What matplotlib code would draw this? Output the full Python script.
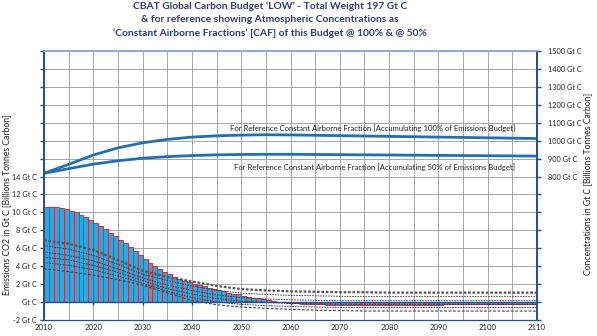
import numpy as np
import matplotlib
matplotlib.use("Agg")
import matplotlib.pyplot as plt

plt.rcParams['font.family'] = ['Lato', 'DejaVu Sans']

# yearly emissions budget, Gt C (bars start at each year)
years = np.arange(2010, 2110)
emissions = [10.6, 10.6, 10.55, 10.5, 10.4, 10.2, 10.0, 9.75, 9.5, 9.15,
             8.8, 8.45, 8.1, 7.7, 7.35, 6.95, 6.55, 6.15, 5.7, 5.25,
             4.8, 4.4, 4.05, 3.7, 3.4, 3.1, 2.85, 2.6, 2.4, 2.2,
             2.05, 1.9, 1.75, 1.6, 1.45, 1.3, 1.2, 1.05, 0.95, 0.85,
             0.7, 0.6, 0.5, 0.4, 0.3, 0.2, 0.1, 0.05, 0.0, -0.05,
             -0.1, -0.15, -0.18, -0.2, -0.22, -0.25, -0.27, -0.3, -0.32, -0.34,
             -0.35, -0.35, -0.36, -0.36, -0.35, -0.35, -0.34, -0.34, -0.33, -0.33,
             -0.32, -0.32, -0.31, -0.31, -0.3, -0.3, -0.3, -0.29, -0.29, -0.28,
             -0.28, -0.27, -0.27, -0.26, -0.26, -0.25, -0.25, -0.25, -0.24, -0.24,
             -0.23, -0.23, -0.22, -0.22, -0.22, -0.21, -0.21, -0.2, -0.2, -0.2]

# scenario lines, every 5 years
years5 = np.arange(2010, 2111, 5)
scen1 = [6.9, 6.5, 5.8, 4.7, 3.5, 2.8, 2.3, 1.8, 1.45, 1.3, 1.2, 1.15, 1.1, 1.1, 1.05, 1.05, 1.05, 1.05, 1.05, 1.05, 1.05]
scen2 = [6.3, 5.9, 5.2, 4.2, 3.1, 2.4, 1.8, 1.3, 1.0, 0.85, 0.75, 0.7, 0.65, 0.6, 0.6, 0.6, 0.6, 0.6, 0.6, 0.6, 0.6]
scen3 = [5.6, 5.2, 4.6, 3.7, 2.7, 1.9, 1.3, 0.8, 0.5, 0.35, 0.25, 0.2, 0.15, 0.15, 0.15, 0.15, 0.15, 0.15, 0.15, 0.15, 0.15]
scen4 = [5.0, 4.7, 4.1, 3.3, 2.4, 1.5, 0.9, 0.4, 0.1, -0.05, -0.15, -0.2, -0.25, -0.25, -0.25, -0.25, -0.25, -0.25, -0.25, -0.25, -0.25]
scen5 = [4.4, 4.1, 3.6, 2.9, 2.1, 1.2, 0.5, 0.0, -0.25, -0.4, -0.5, -0.55, -0.6, -0.6, -0.6, -0.6, -0.6, -0.6, -0.6, -0.6, -0.6]
scen6 = [3.7, 3.4, 3.0, 2.5, 1.9, 1.0, 0.2, -0.3, -0.55, -0.7, -0.8, -0.9, -0.95, -1.0, -1.0, -1.0, -1.0, -1.0, -1.0, -1.0, -1.0]

# atmospheric concentrations, Gt C
caf100 = [818, 868, 920, 960, 988, 1007, 1020, 1027, 1031, 1033, 1032, 1030, 1028, 1026, 1024, 1022, 1020, 1018, 1016, 1014, 1012]
caf50 = [818, 844, 869, 888, 902, 911, 917, 921, 923, 924, 924, 923, 922, 921, 920, 919, 918, 917, 916, 915, 914]

left_ticks = np.arange(-2, 29, 2)
left_labels = ['-2 Gt C', 'Gt C', '2 Gt C', '4 Gt C', '6 Gt C', '8 Gt C', '10 Gt C', '12 Gt C', '14 Gt C']
right_ticks = np.arange(0, 1501, 100)
right_labels = ['800 Gt C', '900 Gt C', '1000 Gt C', '1100 Gt C', '1200 Gt C', '1300 Gt C', '1400 Gt C', '1500 Gt C']
xticks = np.arange(2010, 2111, 10)

navy = '#2a3b8f'
axblue = '#1f4e9c'

fig = plt.figure(figsize=(5.97, 3.36), dpi=100)
ax = fig.add_axes([0.0737, 0.0476, 0.8258, 0.8006])
ax2 = ax.twinx()

ax.set_xlim(2010, 2110)
ax.set_ylim(-2, 28)
ax2.set_ylim(0, 1500)

ax.grid(True, color='#a6a6a6', lw=0.7)
ax.set_axisbelow(True)
ax.set_xticks(xticks)
ax.set_xticks(np.arange(2015, 2110, 10), minor=True)
ax.grid(True, which='minor', axis='x', color='#a6a6a6', lw=0.7)

ax.bar(years, emissions, width=1.0, align='edge', color='#29a9e1', edgecolor='#e8252b', lw=0.7, zorder=2)

for s in [scen2, scen3, scen4, scen5]:
    ax.plot(years5, s, color='#333333', lw=0.6, ls=(0, (2, 1.2)), zorder=3)
ax.plot(years5, scen1, color='#555555', lw=1.6, ls=(0, (1.2, 0.8)), zorder=3)
ax.plot(years5, scen6, color='#444444', lw=0.8, ls=(0, (2.5, 1.5)), zorder=3)

ax.axhline(0, color=axblue, lw=1.0, zorder=4)
ax.plot(xticks[1:-1], np.zeros(len(xticks) - 2), ls='none', marker=3, ms=2.5, mew=1, color=axblue, zorder=4)

ax2.plot(years5, caf100, color='#1f70b8', lw=2.0)
ax2.plot(years5, caf50, color='#1f70b8', lw=2.0)

ax2.text(2076.7, 1069, 'For Reference Constant Airborne Fraction [Accumulating 100% of Emissions Budget]',
         ha='center', va='center', fontsize=5.5, color='#222222')
ax2.text(2077, 851, 'For Reference Constant Airborne Fraction [Accumulating 50% of Emissions Budget]',
         ha='center', va='center', fontsize=5.5, color='#222222')

ax.set_yticks(left_ticks)
ax.set_yticklabels(left_labels + [''] * (len(left_ticks) - len(left_labels)))
ax2.set_yticks(right_ticks)
ax2.set_yticklabels([''] * (len(right_ticks) - len(right_labels)) + right_labels)

ax.tick_params(axis='y', length=3, width=1, color=axblue, labelsize=5.2, pad=2, labelcolor='#222222')
ax2.tick_params(axis='y', length=3, width=1, color=axblue, labelsize=5.3, pad=5, labelcolor='#222222')
ax.tick_params(axis='x', which='both', length=0, labelsize=5.6, pad=3, labelcolor='#222222')

for a in (ax, ax2):
    a.spines['left'].set_color(axblue)
    a.spines['right'].set_color(axblue)
    a.spines['left'].set_linewidth(1.2)
    a.spines['right'].set_linewidth(1.2)
    a.spines['bottom'].set_color(axblue)
    a.spines['top'].set_color('#8eaadb')
    a.spines['top'].set_linewidth(1.2)

fig.text(0.0105, 0.39, 'Emissions CO2 in Gt C [Billions Tonnes Carbon]', rotation=90,
         ha='center', va='center', fontsize=6.2, color='#222222')
fig.text(0.985, 0.452, 'Concentrations in Gt C [Billions Tonnes Carbon]', rotation=90,
         ha='center', va='center', fontsize=6.2, color='#222222')

title = ("CBAT Global Carbon Budget \u2018LOW\u2019 - Total Weight 197 Gt C\n"
         "& for reference showing Atmospheric Concentrations as\n"
         "\u2018Constant Airborne Fractions\u2019 [CAF] of this Budget @ 100% & @ 50%")
fig.text(0.452, 0.995, title, ha='center', va='top', fontsize=7.4, fontweight='bold',
         color=navy, linespacing=1.6)

fig.savefig('out.png', dpi=100)
